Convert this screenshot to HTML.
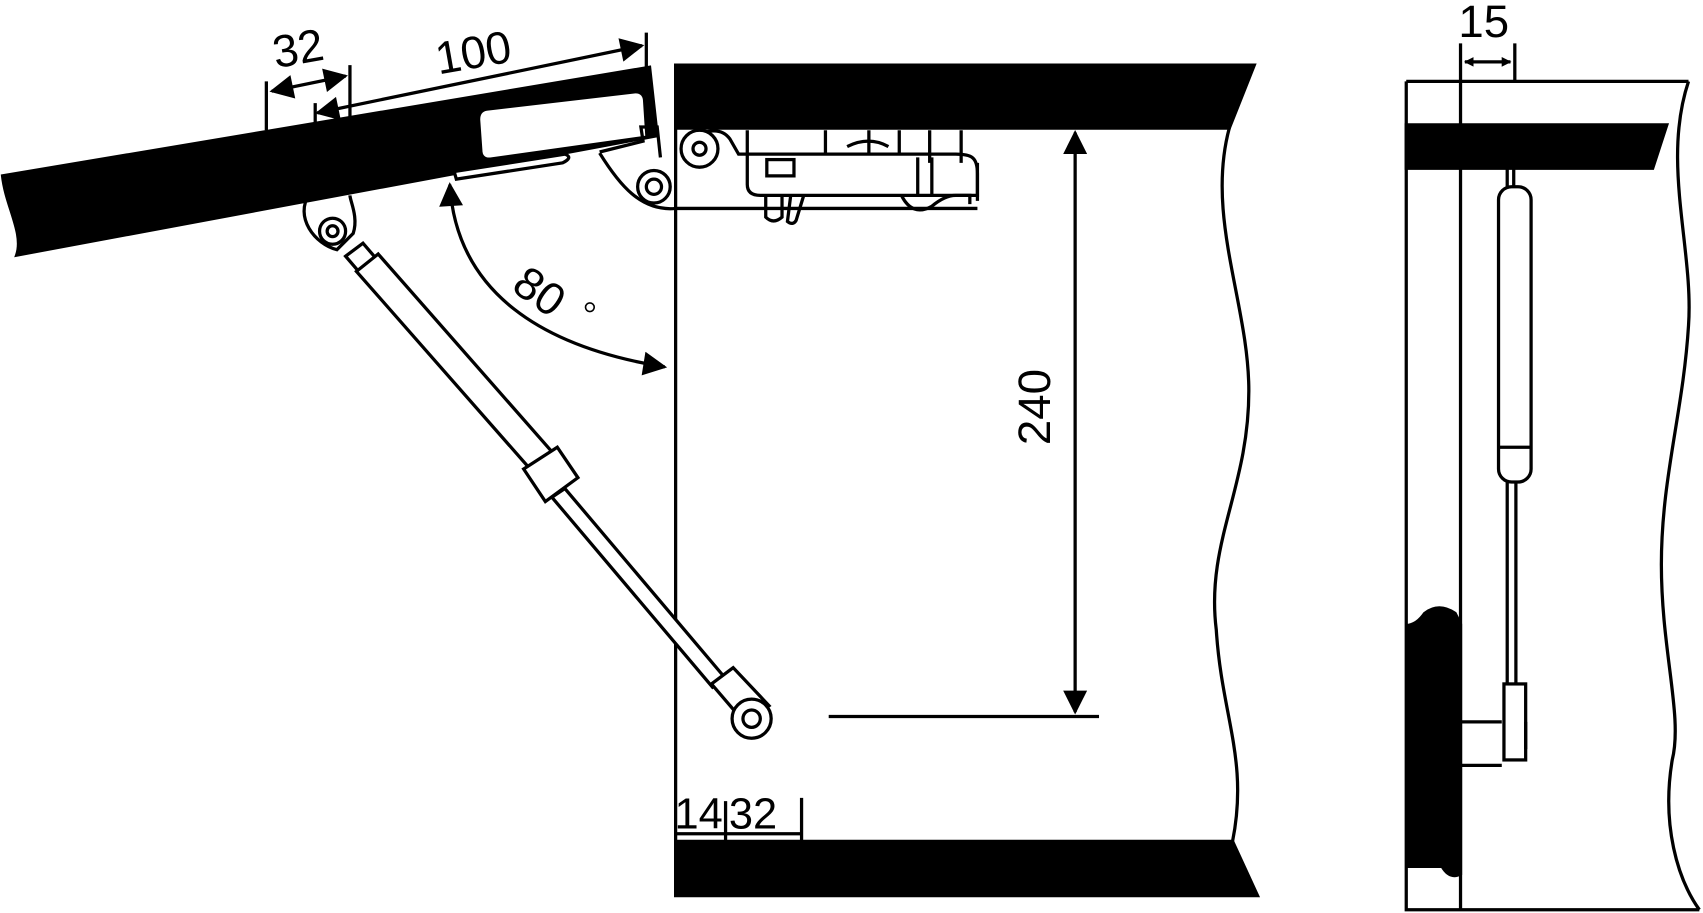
<!DOCTYPE html>
<html><head><meta charset="utf-8"><style>html,body{margin:0;padding:0;background:#fff}svg{display:block}</style></head><body>
<svg width="1703" height="913" viewBox="0 0 1568 841" xmlns="http://www.w3.org/2000/svg" font-family="Liberation Sans, sans-serif">
<defs><marker id="a" viewBox="0 0 10 10" refX="9" refY="5" markerWidth="9" markerHeight="9" orient="auto-start-reverse" markerUnits="userSpaceOnUse"><path d="M0,0L10,5L0,10z"/></marker>
<marker id="b" viewBox="0 0 10 10" refX="9" refY="5" markerWidth="26" markerHeight="22" orient="auto-start-reverse" markerUnits="userSpaceOnUse"><path d="M0,0L10,5L0,10z"/></marker></defs>
<g stroke="#000" stroke-width="3" fill="none">
<path d="M2,162 L598,62 L605,125 L15,235 C22,215 5,190 2,162Z" fill="#000"/>
<path d="M448,102 L585,86 Q592,86 592,94 L594,125 L452,145 Q444,146 444,138 L442,110 Q442,103 448,102Z" fill="#fff" stroke="none"/>
<path d="M418,158 L520,142 Q528,145 518,150 L420,165Z" fill="#fff"/>
<path d="M245,75V120M322,60V108M290,95V115M595,30V100"/>
<path d="M250,84L318,70" marker-start="url(#b)" marker-end="url(#b)"/>
<path d="M292,104L591,42" marker-start="url(#b)" marker-end="url(#b)"/>
<path d="M622,60H1155L1132,118H622Z" fill="#000"/>
<path d="M622,775H1135L1158,825H622Z" fill="#000"/>
<path d="M622,60V825"/>
<path d="M1132,118 C1110,200 1150,280 1150,360 C1150,450 1110,500 1120,580 C1125,660 1150,700 1135,775"/>
<path d="M990,122V656" marker-start="url(#b)" marker-end="url(#b)"/>
<path d="M763,660H1012"/>
<path d="M622,768H738M668,738V775M738,735V775"/>
<path d="M414,170 C420,270 500,320 612,338" marker-start="url(#b)" marker-end="url(#b)"/>
<path d="M285,178 C270,200 290,225 310,230 L325,215 C330,200 322,185 322,180"/>
<circle cx="306" cy="213" r="12" fill="#fff"/><circle cx="306" cy="213" r="5"/>
<path d="M318,236 L334,224 L346,238 L330,250Z" fill="#fff"/>
<path d="M328,250 L348,234 L522,432 L502,448Z" fill="#fff"/>
<path d="M482,432 L513,412 L532,440 L502,462Z" fill="#fff"/>
<path d="M508,458 L520,450 L668,625 L656,633Z" fill="#fff"/>
<path d="M655,630 L675,615 L708,650 L685,665Z" fill="#fff"/>
<circle cx="692" cy="662" r="18" fill="#fff"/><circle cx="692" cy="662" r="8"/>
<path d="M552,140 L592,130 L590,117 L605,117 L608,145"/>
<path d="M552,141 C570,170 590,195 622,192"/>
<circle cx="602" cy="172" r="15" fill="#fff"/><circle cx="602" cy="172" r="7"/>
<path d="M622,192H900"/>
<path d="M640,128 C650,118 665,118 672,128 L680,142 H845 L880,142 C895,142 900,145 900,160 V185"/>
<circle cx="644" cy="137" r="17" fill="#fff"/><circle cx="644" cy="137" r="6"/>
<path d="M688,120V142M760,120V142M800,120V142M828,120V142M856,120V150M885,120V150"/>
<path d="M688,142 V170 Q688,180 700,180 H900 V150"/>
<rect x="706" y="147" width="25" height="15"/>
<path d="M845,145V180M858,145V180"/>
<path d="M705,180 V200 Q712,207 720,200 V180M728,180 L725,204 Q730,208 733,203 L740,180"/>
<path d="M780,135 Q800,125 818,135"/>
<path d="M830,180 Q840,200 858,190 Q870,180 880,180 H893 V188"/>
<path d="M1295,75V838H1565M1345,75V838M1295,75H1555"/>
<path d="M1345,40V75M1395,40V75"/>
<path d="M1349,57H1391" marker-start="url(#a)" marker-end="url(#a)"/>
<path d="M1295,115H1535L1522,155H1295Z" fill="#000"/>
<path d="M1555,75 C1530,150 1560,230 1555,300 C1550,380 1530,440 1530,520 C1530,600 1550,660 1540,700 C1530,760 1545,810 1565,838"/>
<path d="M1388,155V172M1394,155V172"/>
<rect x="1380" y="172" width="30" height="272" rx="12" fill="#fff"/>
<path d="M1380,412H1410"/>
<path d="M1388,444V630M1396,444V630"/>
<rect x="1385" y="630" width="20" height="70"/>
<path d="M1405,665V690M1345,665H1383M1345,705H1383"/>
<path d="M1297,576 Q1305,575 1312,565 Q1325,555 1340,565 L1345,575 V805 Q1335,810 1328,798 H1297Z" fill="#000"/>
</g>
<g font-size="42" fill="#000">
<text x="251" y="58" transform="rotate(-10 280 45)">32</text>
<text x="400" y="62" transform="rotate(-10 440 45)">100</text>
<text x="982" y="390" text-anchor="middle" transform="rotate(-90 967 390)">240</text>
<text x="473" y="285" transform="rotate(35 500 270)">80</text>
<text x="621" y="763" font-size="40">14</text>
<text x="671" y="763" font-size="40">32</text>
<text x="1343" y="34">15</text>
</g>
<circle cx="543" cy="283" r="4" fill="none" stroke="#000" stroke-width="1.5"/>
</svg>
</body></html>
